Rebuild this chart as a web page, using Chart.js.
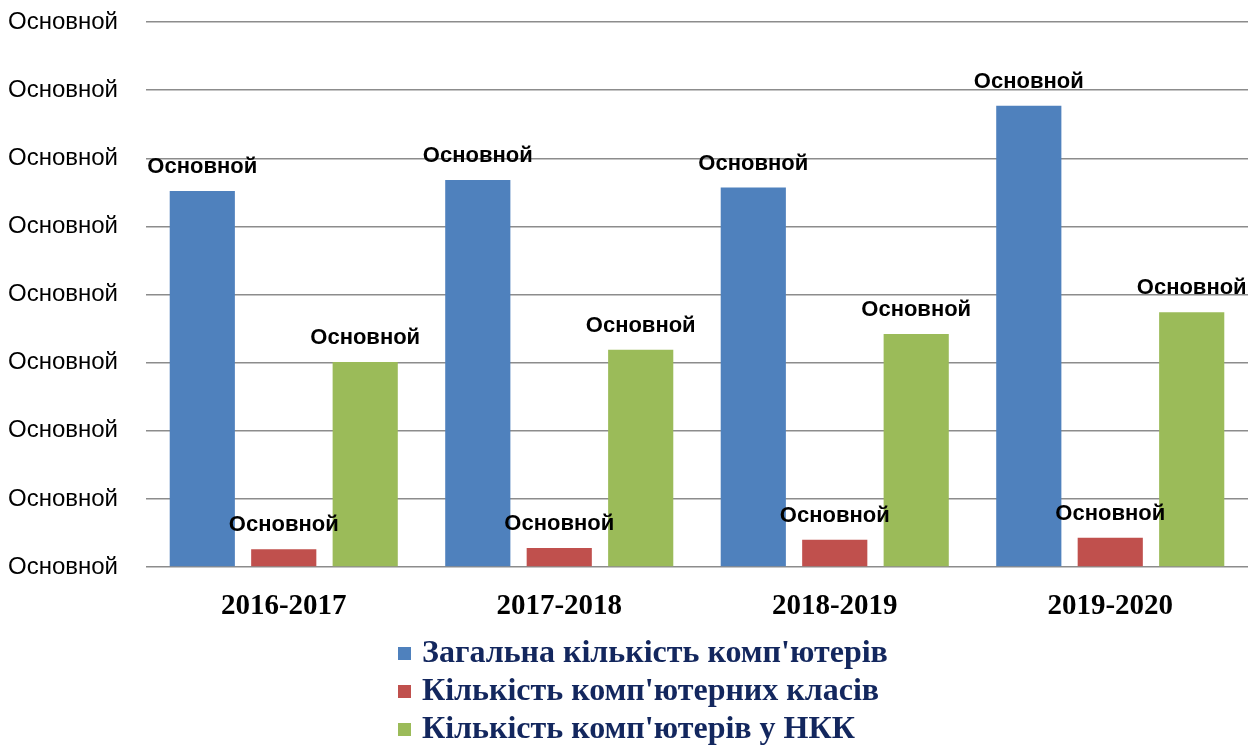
<!DOCTYPE html>
<html>
<head>
<meta charset="utf-8">
<script src="https://cdn.jsdelivr.net/npm/chart.js@4.4.0/dist/chart.umd.min.js"></script>
<style>
html,body{margin:0;padding:0;background:#fff;}
#wrap{width:1252px;height:745px;position:relative;}
</style>
</head>
<body>
<div id="wrap"><canvas id="c" width="1252" height="745"></canvas></div>
<script>
const categories = ['2016-2017', '2017-2018', '2018-2019', '2019-2020'];
const seriesNames = ["Загальна кількість комп'ютерів", "Кількість комп'ютерних класів", "Кількість комп'ютерів у НКК"];
const totalComputers = [552, 568, 557, 677];
const computerClasses = [26, 28, 40, 43];
const nkkComputers = [301, 319, 342, 374];
const tickLabel = 'Основной';
const dataLabel = 'Основной';
const seriesColors = ['#4F81BD', '#C0504D', '#9BBB59'];

const dataLabelsPlugin = {
  id: 'barLabels',
  afterDatasetsDraw(chart) {
    const ctx = chart.ctx;
    ctx.save();
    ctx.font = 'bold 22px "Liberation Sans", Arial, sans-serif';
    ctx.fillStyle = '#000';
    ctx.textAlign = 'center';
    ctx.textBaseline = 'alphabetic';
    chart.data.datasets.forEach((ds, i) => {
      chart.getDatasetMeta(i).data.forEach(bar => {
        ctx.fillText(dataLabel, bar.x, bar.y - 18);
      });
    });
    ctx.restore();
  }
};

const legendPlugin = {
  id: 'stackLegend',
  afterDraw(chart) {
    const ctx = chart.ctx;
    ctx.save();
    ctx.font = 'bold 32px "Liberation Serif", "Times New Roman", serif';
    ctx.textBaseline = 'middle';
    ctx.textAlign = 'left';
    const x0 = 398, y0 = 653, dy = 38;
    chart.data.datasets.forEach((ds, i) => {
      const y = y0 + i * dy;
      ctx.fillStyle = ds.backgroundColor;
      ctx.fillRect(x0, y - 6, 13, 13);
      ctx.fillStyle = '#13275E';
      ctx.fillText(ds.label, x0 + 24, y + 1);
    });
    ctx.restore();
  }
};

new Chart(document.getElementById('c'), {
  type: 'bar',
  data: {
    labels: categories,
    datasets: [
      { label: seriesNames[0], data: totalComputers, backgroundColor: seriesColors[0] },
      { label: seriesNames[1], data: computerClasses, backgroundColor: seriesColors[1] },
      { label: seriesNames[2], data: nkkComputers, backgroundColor: seriesColors[2] }
    ]
  },
  options: {
    responsive: false,
    animation: false,
    layout: { padding: { left: 0, right: 4, top: 22, bottom: 0 } },
    datasets: { bar: { categoryPercentage: 0.887, barPercentage: 0.8 } },
    plugins: {
      legend: { display: false },
      tooltip: { enabled: false }
    },
    scales: {
      x: {
        grid: { display: false, drawTicks: false },
        border: { display: false },
        ticks: {
          color: '#000',
          padding: 22,
          maxRotation: 0,
          font: { family: '"Liberation Serif", "Times New Roman", serif', size: 29, weight: 'bold' }
        },
        afterFit(scale) { scale.height = 178; scale.paddingLeft = 0; scale.paddingRight = 0; }
      },
      y: {
        min: 0, max: 800,
        ticks: {
          stepSize: 100,
          color: '#000',
          padding: 28,
          font: { family: '"Liberation Sans", Arial, sans-serif', size: 24 },
          callback: () => tickLabel
        },
        grid: { color: '#8c8c8c', lineWidth: 1.5, drawTicks: false },
        border: { display: false },
        afterFit(scale) { scale.width = 146; scale.paddingTop = 0; scale.paddingBottom = 0; }
      }
    }
  },
  plugins: [dataLabelsPlugin, legendPlugin]
});
</script>
</body>
</html>
